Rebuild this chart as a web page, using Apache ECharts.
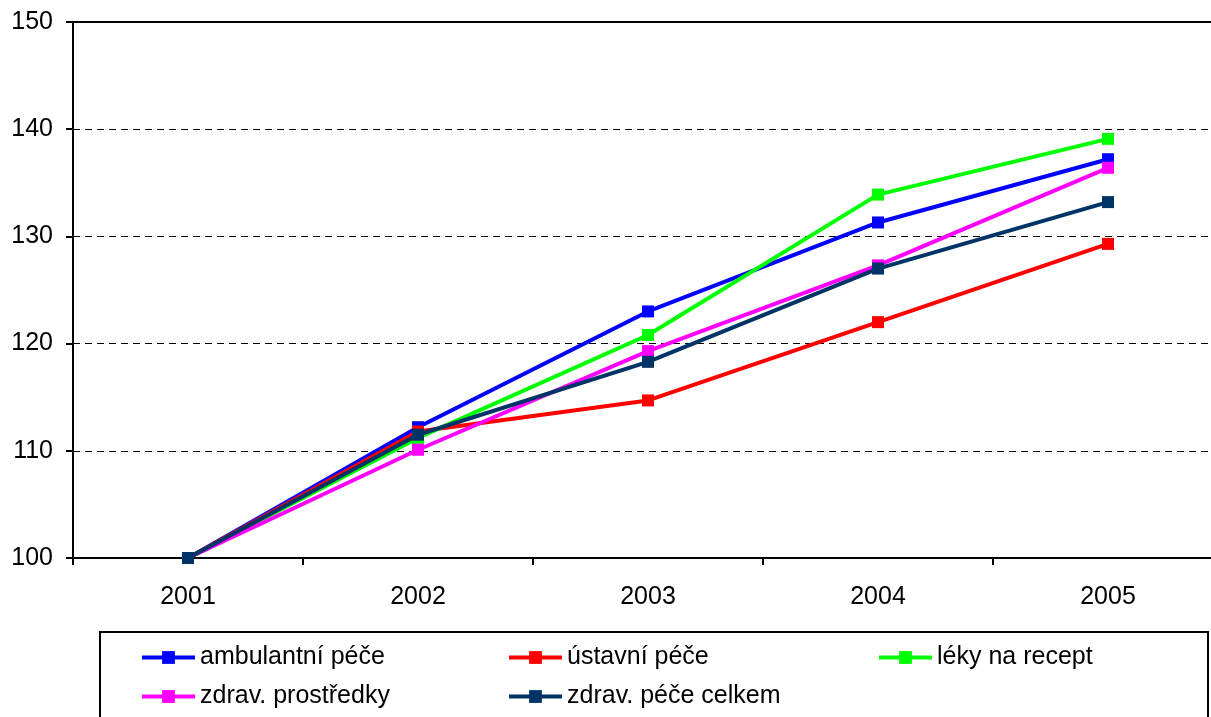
<!DOCTYPE html>
<html>
<head>
<meta charset="utf-8">
<script src="https://cdn.jsdelivr.net/npm/echarts@6/dist/echarts.min.js"></script>
<style>
  html, body { margin: 0; padding: 0; background: #fff; }
  #chart { width: 1211px; height: 717px; }
</style>
</head>
<body>
<div id="chart"></div>
<script>
// data
const years = ['2001', '2002', '2003', '2004', '2005']
const ambulantni = [100, 112.2, 123.0, 131.3, 137.2]
const ustavni = [100, 111.8, 114.7, 122.0, 129.3]
const leky = [100, 111.2, 120.8, 133.9, 139.1]
const prostredky = [100, 110.1, 119.3, 127.3, 136.4]
const celkem = [100, 111.5, 118.3, 127.0, 133.2]

const seriesDefs = [
  { name: 'ambulantní péče', data: ambulantni, color: '#0000ff' },
  { name: 'ústavní péče', data: ustavni, color: '#ff0000' },
  { name: 'léky na recept', data: leky, color: '#00ff00' },
  { name: 'zdrav. prostředky', data: prostredky, color: '#ff00ff' },
  { name: 'zdrav. péče celkem', data: celkem, color: '#003366' }
]

const font = '"Liberation Sans", Arial, sans-serif'

const legendBase = {
  orient: 'vertical',
  top: 645,
  padding: 0,
  itemGap: 14,
  itemWidth: 53,
  itemHeight: 16,
  lineStyle: { width: 4 },
  textStyle: { fontSize: 25, color: '#000', fontFamily: font }
}

const chart = echarts.init(document.getElementById('chart'))
chart.setOption({
  animation: false,
  backgroundColor: '#fff',
  grid: {
    left: 73, top: 22, width: 1150, height: 536,
    outerBoundsMode: 'none',
    show: true, borderColor: '#000', borderWidth: 2
  },
  legend: [
    Object.assign({ left: 140, data: ['ambulantní péče', 'zdrav. prostředky'] }, legendBase),
    Object.assign({ left: 507, data: ['ústavní péče', 'zdrav. péče celkem'] }, legendBase),
    Object.assign({ left: 877, data: ['léky na recept'] }, legendBase)
  ],
  graphic: [{
    type: 'rect',
    shape: { x: 100, y: 632, width: 1108, height: 120 },
    style: { fill: 'none', stroke: '#000', lineWidth: 2 },
    z: -1
  }],
  xAxis: {
    type: 'category',
    data: years,
    boundaryGap: true,
    axisLine: { lineStyle: { color: '#000', width: 2 } },
    axisTick: { show: true, length: 7, lineStyle: { color: '#000', width: 2 } },
    axisLabel: { fontSize: 25, color: '#000', fontFamily: font, margin: 27 },
    splitLine: { show: false }
  },
  yAxis: {
    type: 'value',
    min: 100, max: 150, interval: 10,
    axisLine: { show: true, lineStyle: { color: '#000', width: 2 } },
    axisTick: { show: true, length: 7, lineStyle: { color: '#000', width: 2 } },
    axisLabel: { fontSize: 25, color: '#000', fontFamily: font, margin: 20 },
    splitLine: { show: true, lineStyle: { color: '#000', width: 1, type: [7, 5] } }
  },
  series: seriesDefs.map(s => ({
    name: s.name,
    type: 'line',
    data: s.data,
    symbol: 'rect',
    symbolSize: 12,
    showAllSymbol: true,
    lineStyle: { color: s.color, width: 4 },
    itemStyle: { color: s.color, borderWidth: 0 }
  }))
})
</script>
</body>
</html>
